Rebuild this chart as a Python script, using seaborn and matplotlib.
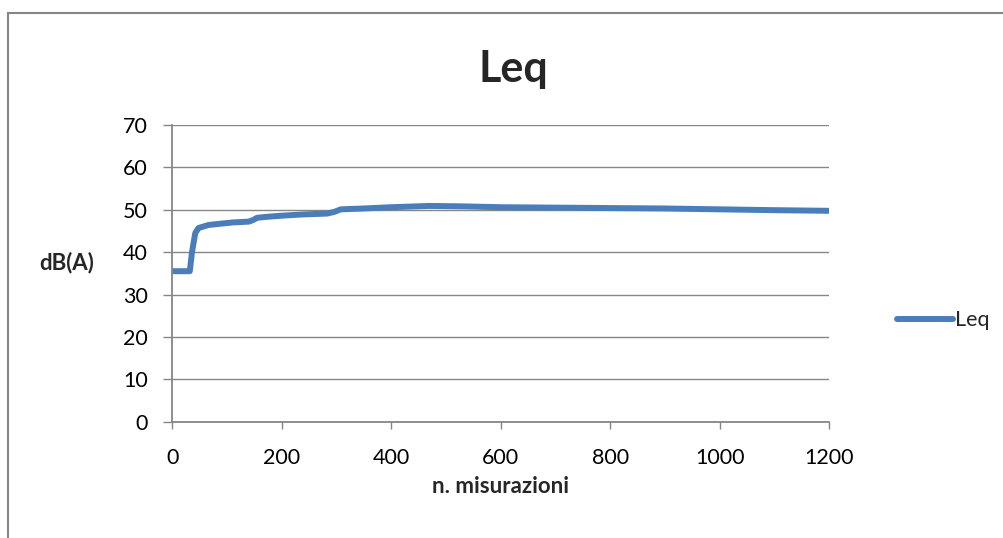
import matplotlib
matplotlib.use("Agg")
import matplotlib.pyplot as plt
from matplotlib.patches import Rectangle
import seaborn as sns
import pandas as pd

# Cumulative equivalent level against number of measurements
misurazioni = [0, 32, 36, 42, 48, 66, 80, 110, 140, 148, 155, 170, 200, 240,
               283, 296, 308, 350, 400, 470, 530, 600, 700, 800, 900, 1000,
               1100, 1200]
leq = [35.5, 35.5, 40.0, 44.5, 45.7, 46.4, 46.6, 47.0, 47.2, 47.6, 48.1, 48.3,
       48.6, 48.9, 49.1, 49.5, 50.1, 50.3, 50.6, 50.9, 50.8, 50.6, 50.5, 50.4,
       50.3, 50.1, 49.9, 49.75]

x_ticks = [0, 200, 400, 600, 800, 1000, 1200]
y_ticks = [0, 10, 20, 30, 40, 50, 60, 70]

df = pd.DataFrame({"n. misurazioni": misurazioni, "Leq": leq})

sns.set_theme(style="white")
plt.rcParams["font.family"] = ["Lato", "DejaVu Sans"]

GRAY = "#868686"
BLUE = "#4A7EBB"

fig = plt.figure(figsize=(10.04, 5.38), dpi=100)
ax = fig.add_axes([0.1716, 0.2162, 0.6541, 0.5515])

sns.lineplot(data=df, x="n. misurazioni", y="Leq", ax=ax, color=BLUE,
             linewidth=4.3, label="Leq", solid_capstyle="round",
             solid_joinstyle="round")

ax.set_xlim(0, 1200)
ax.set_ylim(0, 70)
ax.set_xticks(x_ticks)
ax.set_yticks(y_ticks)
ax.yaxis.grid(True, color=GRAY, linewidth=1.0)
ax.xaxis.grid(False)
ax.set_axisbelow(True)

for side in ["top", "right"]:
    ax.spines[side].set_visible(False)
for side in ["left", "bottom"]:
    ax.spines[side].set_color(GRAY)
    ax.spines[side].set_linewidth(1.3)

ax.tick_params(axis="y", which="major", direction="out", length=6.5,
               width=1.0, color=GRAY, labelsize=15.5, pad=11, labelcolor="black")
ax.tick_params(axis="x", which="major", direction="out", length=5,
               width=1.0, color=GRAY, labelsize=15.5, pad=14, labelcolor="black")
ax.tick_params(left=True, bottom=True)

ax.set_xlabel("n. misurazioni", fontsize=16, fontweight="bold", labelpad=6)
ax.set_ylabel("dB(A)", fontsize=16, fontweight="bold", rotation=0,
              labelpad=0)
ax.yaxis.set_label_coords(-0.161, 0.5)

fig.text(0.511, 0.872, "Leq", ha="center", va="center", fontsize=31,
         fontweight="bold")

leg = ax.legend(loc="center left", bbox_to_anchor=(0.885, 0.405),
                bbox_transform=fig.transFigure, frameon=False, fontsize=15.5,
                handlelength=2.6, handletextpad=0.1, borderaxespad=0)
for line in leg.get_lines():
    line.set_linewidth(4.3)
    line.set_solid_capstyle("round")

# Chart area border
fig.patches.append(Rectangle((8 / 1004, -0.1), 1.2, 1.1 - 13 / 538,
                             transform=fig.transFigure, fill=False,
                             edgecolor=GRAY, linewidth=1.5))

fig.savefig("out.png", dpi=100, facecolor="white")
